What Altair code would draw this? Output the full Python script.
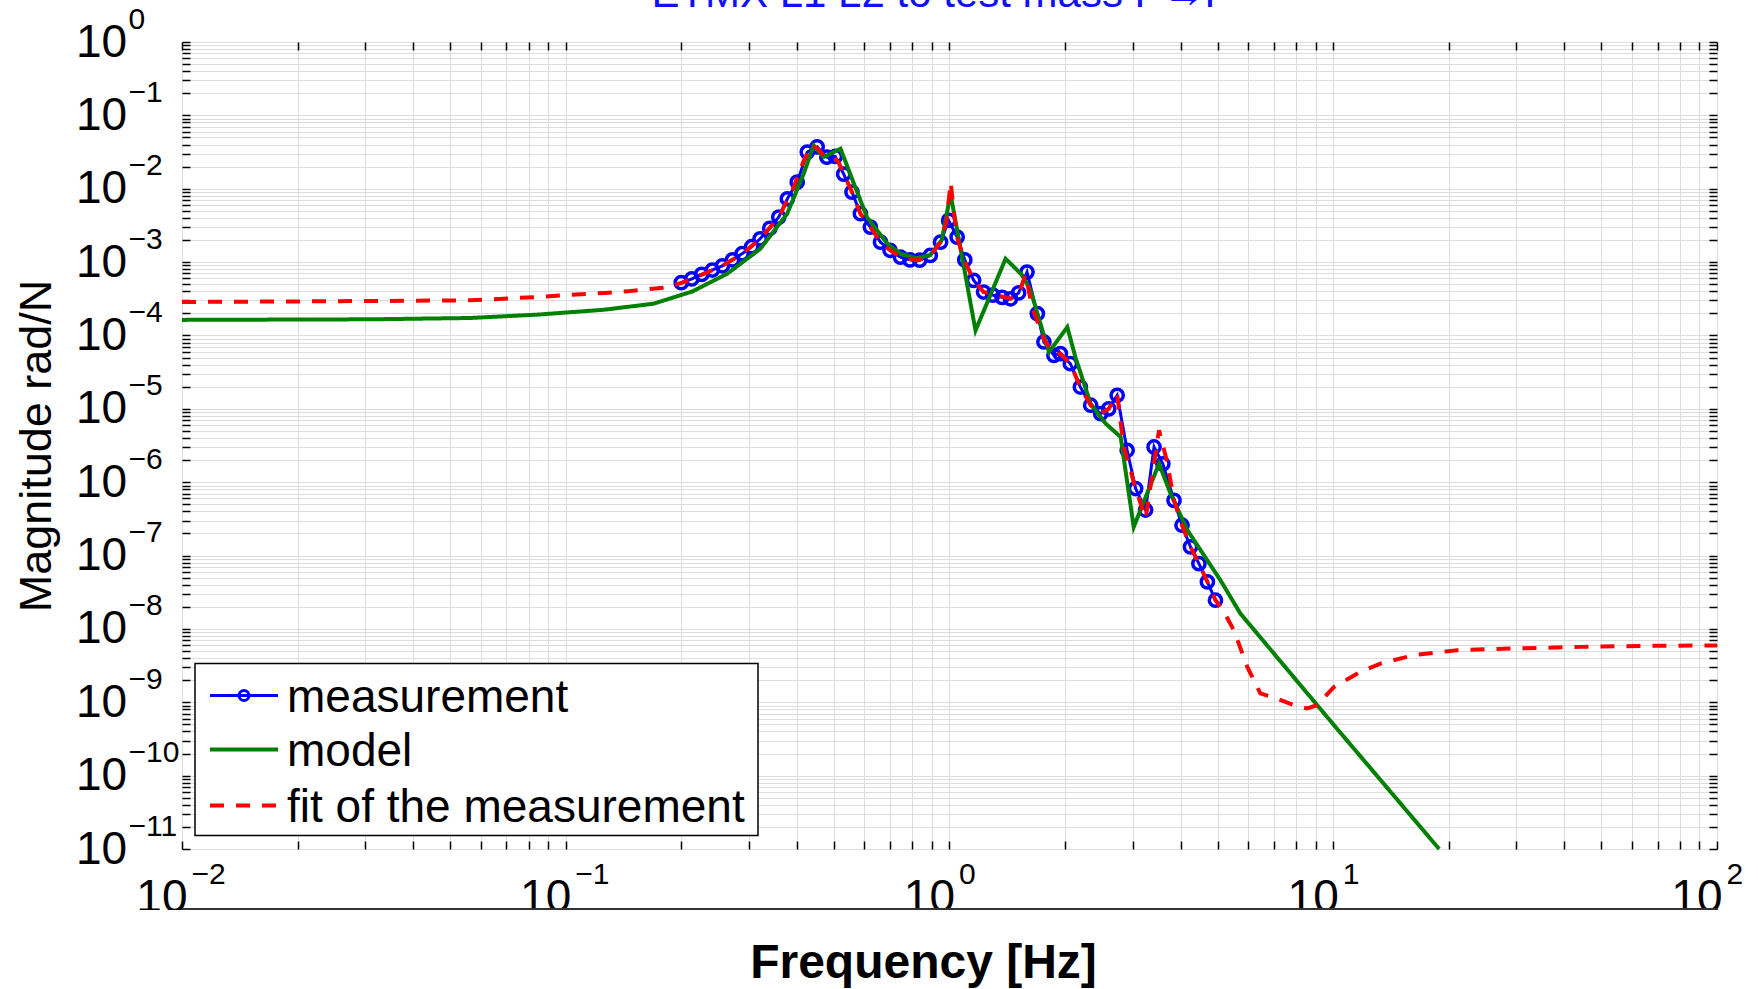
import altair as alt
import pandas as pd

# ---------------- data ----------------
series_names = ["measurement", "model", "fit of the measurement"]
series_colors = ["#0000ff", "#008000", "#ff0000"]

meas_freq = [0.200, 0.213, 0.226, 0.241, 0.256, 0.272, 0.288, 0.305, 0.321, 0.340,
             0.359, 0.378, 0.401, 0.426, 0.452, 0.479, 0.504, 0.530, 0.557, 0.586,
             0.622, 0.661, 0.700, 0.745, 0.789, 0.836, 0.891, 0.948, 0.995, 1.047,
             1.096, 1.156, 1.227, 1.297, 1.371, 1.442, 1.514, 1.592, 1.694, 1.762,
             1.871, 1.945, 2.065, 2.193, 2.333, 2.477, 2.600, 2.735, 2.904, 3.055,
             3.243, 3.412, 3.597, 3.846, 4.036, 4.246, 4.467, 4.699, 4.932]
meas_mag = [5.24e-4, 5.9e-4, 6.8e-4, 7.8e-4, 8.9e-4, 1.07e-3, 1.30e-3, 1.62e-3, 2.08e-3, 2.88e-3,
            4.11e-3, 7.29e-3, 1.23e-2, 3.16e-2, 3.72e-2, 2.69e-2, 2.75e-2, 1.58e-2, 9.0e-3, 4.57e-3,
            3.0e-3, 1.87e-3, 1.45e-3, 1.17e-3, 1.07e-3, 1.06e-3, 1.23e-3, 1.87e-3, 3.70e-3, 2.19e-3,
            1.07e-3, 5.64e-4, 3.91e-4, 3.55e-4, 3.31e-4, 3.16e-4, 3.80e-4, 7.31e-4, 1.98e-4, 8.15e-5,
            5.36e-5, 5.65e-5, 4.12e-5, 1.98e-5, 1.12e-5, 8.6e-6, 1.0e-5, 1.53e-5, 2.72e-6, 8.2e-7,
            4.17e-7, 3.02e-6, 1.78e-6, 5.66e-7, 2.59e-7, 1.31e-7, 7.76e-8, 4.38e-8, 2.46e-8]

model_freq = [0.01, 0.031, 0.0565, 0.0841, 0.1256, 0.1694, 0.2138, 0.2636, 0.3214, 0.3776,
              0.4169, 0.4426, 0.4699, 0.5200, 0.5636, 0.6095, 0.6887, 0.7447, 0.8241, 0.8913,
              0.955, 1.006, 1.169, 1.400, 1.549, 1.626, 1.816, 2.028, 2.128, 2.333,
              2.553, 2.793, 3.020, 3.516, 3.767, 4.169, 5.082, 5.728, 10.0, 18.88]
model_mag = [1.63e-4, 1.66e-4, 1.73e-4, 1.92e-4, 2.24e-4, 2.71e-4, 3.98e-4, 6.95e-4, 1.52e-3, 4.56e-3,
             1.60e-2, 3.89e-2, 2.70e-2, 3.51e-2, 1.17e-2, 4.11e-3, 1.78e-3, 1.30e-3, 1.12e-3, 1.26e-3,
             2.0e-3, 8.53e-3, 1.17e-4, 1.11e-3, 6.59e-4, 4.11e-4, 5.94e-5, 1.30e-4, 5.08e-5, 1.17e-5,
             6.28e-6, 4.13e-6, 2.45e-7, 1.79e-6, 6.98e-7, 2.21e-7, 4.61e-8, 1.62e-8, 5.01e-10, 1.0e-11]

fit_freq = [0.01, 0.0178, 0.0316, 0.0562, 0.0841, 0.1028, 0.126, 0.1445, 0.180, 0.200,
            0.2265, 0.256, 0.2884, 0.3214, 0.3589, 0.389, 0.417, 0.4365, 0.452, 0.473,
            0.4955, 0.513, 0.537, 0.557, 0.586, 0.622, 0.661, 0.700, 0.745, 0.824,
            0.891, 0.948, 0.982, 1.007, 1.028, 1.047, 1.089, 1.156, 1.227, 1.330,
            1.442, 1.514, 1.578, 1.641, 1.762, 1.871, 1.945, 2.065, 2.193, 2.333,
            2.477, 2.600, 2.735, 2.844, 3.055, 3.243, 3.516, 3.690, 3.846, 4.036,
            4.246, 4.467, 4.699, 4.932, 5.188, 5.508, 5.970, 6.457, 7.145, 7.889,
            8.551, 9.078, 10.05, 11.78, 13.27, 16.22, 21.04, 29.58, 44.06, 65.77, 100.0]
fit_mag = [2.86e-4, 2.90e-4, 2.95e-4, 3.01e-4, 3.34e-4, 3.59e-4, 3.80e-4, 3.99e-4, 4.48e-4, 5.19e-4,
           6.76e-4, 8.91e-4, 1.30e-3, 2.08e-3, 4.11e-3, 9.33e-3, 2.40e-2, 3.98e-2, 3.55e-2, 2.75e-2,
           2.75e-2, 2.34e-2, 1.38e-2, 9.0e-3, 4.56e-3, 3.0e-3, 1.87e-3, 1.45e-3, 1.17e-3, 1.05e-3,
           1.23e-3, 1.87e-3, 3.55e-3, 1.23e-2, 4.47e-3, 2.19e-3, 1.11e-3, 5.64e-4, 3.91e-4, 3.52e-4,
           3.17e-4, 3.63e-4, 6.76e-4, 2.44e-4, 8.91e-5, 5.62e-5, 5.65e-5, 4.12e-5, 1.98e-5, 1.12e-5,
           8.59e-6, 1.00e-5, 1.58e-5, 3.02e-6, 8.17e-7, 3.19e-7, 5.09e-6, 1.89e-6, 5.66e-7, 2.59e-7,
           1.31e-7, 7.76e-8, 4.38e-8, 2.46e-8, 1.71e-8, 9.59e-9, 3.04e-9, 1.32e-9, 1.12e-9, 9.12e-10,
           8.22e-10, 9.12e-10, 1.62e-9, 2.60e-9, 3.37e-9, 4.39e-9, 5.13e-9, 5.41e-9, 5.69e-9, 5.87e-9, 5.96e-9]

x_decades = [0.01, 0.1, 1, 10, 100]
y_decades = [1e-11, 1e-10, 1e-9, 1e-8, 1e-7, 1e-6, 1e-5, 1e-4, 1e-3, 1e-2, 1e-1, 1]
minor_mult = [1, 2, 3, 4, 5, 6, 7, 8, 9]
title_text = "ETMX L1 L2 to test mass P\u2192P"

x_grid = [m * d for d in x_decades[:-1] for m in minor_mult] + [x_decades[-1]]
y_grid = [m * d for d in y_decades[:-1] for m in minor_mult] + [y_decades[-1]]

meas_df = pd.DataFrame({"f": meas_freq, "m": meas_mag, "series": series_names[0]})
model_df = pd.DataFrame({"f": model_freq, "m": model_mag, "series": series_names[1]})
fit_df = pd.DataFrame({"f": fit_freq, "m": fit_mag, "series": series_names[2]})

W, H = 1535, 807

LOG = "round(log(datum.value)/LN10)"
IS_DECADE = f"abs(log(datum.value)/LN10 - {LOG}) < 0.001"
ten_expr = f"{IS_DECADE} ? '10' : ''"
exp_expr = f"{IS_DECADE} ? (({LOG}) < 0 ? '\u2212' : '') + abs({LOG}) : ''"

tick_font = "Liberation Sans, Arial, sans-serif"
text_font = "Liberation Sans, Arial, sans-serif"

common_lbl = dict(labelFlush=False, labelOverlap=False, labelBound=False, labelColor="black",
                  labelFont=tick_font, labelBaseline="middle", domain=False)

x_scale = alt.Scale(type="log", domain=[0.01, 100], nice=False)
y_scale = alt.Scale(type="log", domain=[1e-11, 1], nice=False)

# main axes: grid + "10" mantissas + titles
x_main = alt.Axis(values=x_grid, labelExpr=ten_expr, title="Frequency [Hz]", grid=True, ticks=False,
                  labelFontSize=46, labelPadding=48, labelAlign="right", labelOffset=5,
                  titleFont=text_font, titleFontSize=48, titleFontWeight="bold",
                  titleColor="black", titleX=741, titleY=128,
                  titleBaseline="alphabetic", titleAlign="center", **common_lbl)
y_main = alt.Axis(values=y_grid, labelExpr=ten_expr, title="Magnitude rad/N", grid=True, ticks=False,
                  labelFontSize=46, labelPadding=106.6, labelAlign="left",
                  titleFont=text_font, titleFontSize=45, titleFontWeight="normal",
                  titleColor="black", titleX=-146, titleY=403.5, titleAngle=270,
                  titleBaseline="middle", titleAlign="center", **common_lbl)
# exponent axes, also carrying the inner ticks on left / bottom
x_exp = alt.Axis(orient="bottom", values=x_grid, labelExpr=exp_expr, title=None, grid=False,
                 ticks=True, tickSize=8, tickColor="black", tickWidth=1.5, offset=-8,
                 labelFontSize=30, labelPadding=25, labelAlign="left", labelOffset=9, **common_lbl)
y_exp = alt.Axis(orient="left", values=y_grid, labelExpr=exp_expr, title=None, grid=False,
                 ticks=True, tickSize=8, tickColor="black", tickWidth=1.5, offset=-8,
                 labelFontSize=30, labelPadding=54, labelAlign="left", labelOffset=-23, **common_lbl)
# inner ticks on top / right
x_top = alt.Axis(orient="top", values=x_grid, labels=False, title=None, grid=False, ticks=True,
                 tickSize=8, tickColor="black", tickWidth=1.5, offset=-8, domain=False)
y_right = alt.Axis(orient="right", values=y_grid, labels=False, title=None, grid=False, ticks=True,
                   tickSize=8, tickColor="black", tickWidth=1.5, offset=-8, domain=False)

color_enc = alt.Color("series:N",
                      scale=alt.Scale(domain=series_names, range=series_colors), legend=None)
dash_enc = alt.StrokeDash("series:N",
                          scale=alt.Scale(domain=series_names, range=[[1, 0], [1, 0], [14, 12]]),
                          legend=None)

meas_line = alt.Chart(meas_df).mark_line(strokeWidth=3).encode(
    x=alt.X("f:Q", scale=x_scale, axis=x_main), y=alt.Y("m:Q", scale=y_scale, axis=y_main),
    color=color_enc, strokeDash=dash_enc)
meas_pts = alt.Chart(meas_df).mark_point(filled=False, size=150, strokeWidth=3.5, opacity=1).encode(
    x=alt.X("f:Q", scale=x_scale, axis=x_exp), y=alt.Y("m:Q", scale=y_scale, axis=y_exp),
    color=color_enc)
model_line = alt.Chart(model_df).mark_line(strokeWidth=4).encode(
    x=alt.X("f:Q", scale=x_scale, axis=x_top), y=alt.Y("m:Q", scale=y_scale, axis=y_right),
    color=color_enc, strokeDash=dash_enc)
fit_line = alt.Chart(fit_df).mark_line(strokeWidth=4).encode(
    x=alt.X("f:Q", scale=x_scale, axis=None), y=alt.Y("m:Q", scale=y_scale, axis=None),
    color=color_enc, strokeDash=dash_enc)

# ---------------- decorations ----------------
deco_df = pd.DataFrame({"title": [title_text]})
cover = alt.Chart(deco_df).mark_rect(color="white").encode(
    x=alt.value(-60), x2=alt.value(W + 40), y=alt.value(H + 61), y2=alt.value(H + 86))
lower_axis = alt.Chart(deco_df).mark_rule(color="#333333", strokeWidth=2).encode(
    x=alt.value(0), x2=alt.value(W + 1), y=alt.value(H + 60))
title_mark = alt.Chart(deco_df).mark_text(
    font=text_font, fontSize=42, color="#1010ff", baseline="alphabetic", align="center"
).encode(text="title:N", x=alt.value(760), y=alt.value(-35.5))

# ---------------- legend (built from the series list) ----------------
leg_df = pd.DataFrame({"series": series_names})
leg_rows = [653.5, 707.5, 763.5]
leg_widths = [3, 4, 4]
legend_box = alt.Chart(deco_df).mark_rect(fill="white", stroke="black", strokeWidth=1.5).encode(
    x=alt.value(13), x2=alt.value(576), y=alt.value(621.5), y2=alt.value(793.5))
legend_layers = [legend_box]
for s, ry, lw in zip(series_names, leg_rows, leg_widths):
    base = alt.Chart(leg_df).transform_filter(alt.datum.series == s)
    legend_layers.append(base.mark_rule(strokeWidth=lw).encode(
        x=alt.value(28), x2=alt.value(96), y=alt.value(ry), color=color_enc, strokeDash=dash_enc))
    legend_layers.append(base.mark_text(font=text_font, fontSize=46, color="black",
                                        align="left", baseline="middle").encode(
        text="series:N", x=alt.value(105), y=alt.value(ry + 2)))
legend_layers.append(
    alt.Chart(leg_df).transform_filter(alt.datum.series == series_names[0])
    .mark_point(filled=False, size=100, strokeWidth=3, opacity=1)
    .encode(x=alt.value(62), y=alt.value(leg_rows[0]), color=color_enc))

chart = alt.layer(meas_line, meas_pts, model_line, fit_line, cover, lower_axis, title_mark,
                  *legend_layers).resolve_axis(x="independent", y="independent").properties(
    width=W, height=H,
    autosize=alt.AutoSizeParams(type="none"),
    padding={"left": 182, "top": 42, "right": 41, "bottom": 140},
).configure_view(stroke="black", strokeWidth=2).configure_axis(
    gridColor="#000000", gridOpacity=1, gridDash=[1, 2], gridWidth=1
).configure(background="white")

chart.save("out.html", embed_options={"renderer": "svg", "actions": False})
